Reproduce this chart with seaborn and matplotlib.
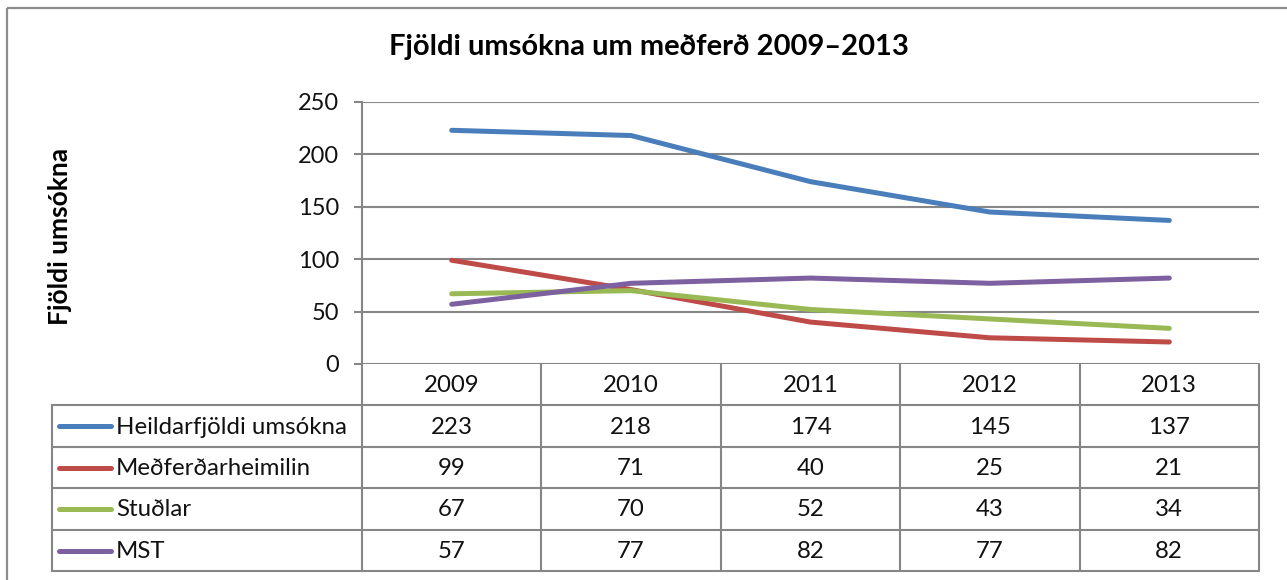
import matplotlib
matplotlib.use("Agg")
import matplotlib.pyplot as plt
import seaborn as sns
import pandas as pd
from matplotlib.lines import Line2D
from matplotlib.patches import Rectangle

years = ["2009", "2010", "2011", "2012", "2013"]
series_names = ["Heildarfjöldi umsókna", "Meðferðarheimilin", "Stuðlar", "MST"]
heildar = [223, 218, 174, 145, 137]
medferdar = [99, 71, 40, 25, 21]
studlar = [67, 70, 52, 43, 34]
mst = [57, 77, 82, 77, 82]
yticks = [0, 50, 100, 150, 200, 250]
title = "Fjöldi umsókna um meðferð 2009–2013"
ylabel = "Fjöldi umsókna"

colors = ["#4A7EBB", "#BE4B48", "#98B954", "#7D60A0"]
values = [heildar, medferdar, studlar, mst]

sns.set_theme(style="white")
FONT = "Lato"
plt.rcParams["font.family"] = [FONT, "DejaVu Sans"]

W, H = 1287, 580
fig = plt.figure(figsize=(W / 100, H / 100), dpi=100)
fig.patch.set_facecolor("white")

def px_axes(x0, y0, x1, y1, **kw):
    return fig.add_axes([x0 / W, 1 - y1 / H, (x1 - x0) / W, (y1 - y0) / H], **kw)

# overlay for border / table
ov = px_axes(0, 0, W, H)
ov.set_xlim(0, W)
ov.set_ylim(H, 0)
ov.axis("off")
ov.add_patch(Rectangle((7, 8), W + 20, H + 20, fill=False, edgecolor="#8C8C8C", lw=1.6))

PL, PR, PT, PB = 362, 1259, 102, 364
ax = px_axes(PL, PT, PR, PB)
ax.set_facecolor("none")

rows = []
for name, vals in zip(series_names, values):
    for i, v in enumerate(vals):
        rows.append({"x": i, "value": v, "series": name})
df = pd.DataFrame(rows)
sns.lineplot(data=df, x="x", y="value", hue="series", hue_order=series_names,
             palette=colors, linewidth=3.6, ax=ax, legend=False)
for ln in ax.get_lines():
    ln.set_solid_capstyle("round")
    ln.set_solid_joinstyle("round")

ax.set_xlim(-0.5, len(years) - 0.5)
ax.set_ylim(0, 250)
ax.set_yticks(yticks)
ax.set_yticklabels([str(t) for t in yticks], fontsize=17, color="#111111")
ax.set_xticks([])
ax.set_xlabel("")
ax.set_ylabel("")
for t in yticks:
    ax.axhline(t, color="#868686", lw=1.5, zorder=0)
for s in ["top", "right", "bottom"]:
    ax.spines[s].set_visible(False)
ax.spines["left"].set_color("#868686")
ax.spines["left"].set_linewidth(1.5)
ax.tick_params(axis="y", which="major", direction="out", length=5.5, width=1.5,
               color="#868686", pad=11, left=True)

fig.text(649 / W, 1 - 47 / H, title, ha="center", va="center", fontsize=21,
         fontweight="bold", color="black")
fig.text(60 / W, 1 - 236 / H, ylabel, ha="center", va="center", rotation=90,
         fontsize=19, fontweight="bold", color="black")

# data table
gc = "#868686"
TL = 52
row_edges = [PB, 405, 447, 488, 530, 571]
col_edges = [PL + (PR - PL) * i / len(years) for i in range(len(years) + 1)]
for xe in col_edges:
    ov.add_line(Line2D([xe, xe], [PB, row_edges[-1]], color=gc, lw=1.5))
ov.add_line(Line2D([TL, TL], [row_edges[1], row_edges[-1]], color=gc, lw=1.5))
for ye in row_edges[1:]:
    ov.add_line(Line2D([TL, col_edges[-1]], [ye, ye], color=gc, lw=1.5))

tfs = 17.3
for i, yr in enumerate(years):
    cx = (col_edges[i] + col_edges[i + 1]) / 2
    ov.text(cx, (row_edges[0] + row_edges[1]) / 2 + 1, yr, ha="center", va="center",
            fontsize=tfs, color="#111111")
for r, (name, vals, c) in enumerate(zip(series_names, values, colors)):
    cy = (row_edges[r + 1] + row_edges[r + 2]) / 2
    ov.add_line(Line2D([59, 111], [cy, cy], color=c, lw=3.6, solid_capstyle="round"))
    ov.text(116, cy + 1, name, ha="left", va="center", fontsize=tfs, color="#111111")
    for i, v in enumerate(vals):
        cx = (col_edges[i] + col_edges[i + 1]) / 2
        ov.text(cx, cy + 1, str(v), ha="center", va="center", fontsize=tfs, color="#111111")

fig.savefig("out.png", dpi=100, facecolor="white")
